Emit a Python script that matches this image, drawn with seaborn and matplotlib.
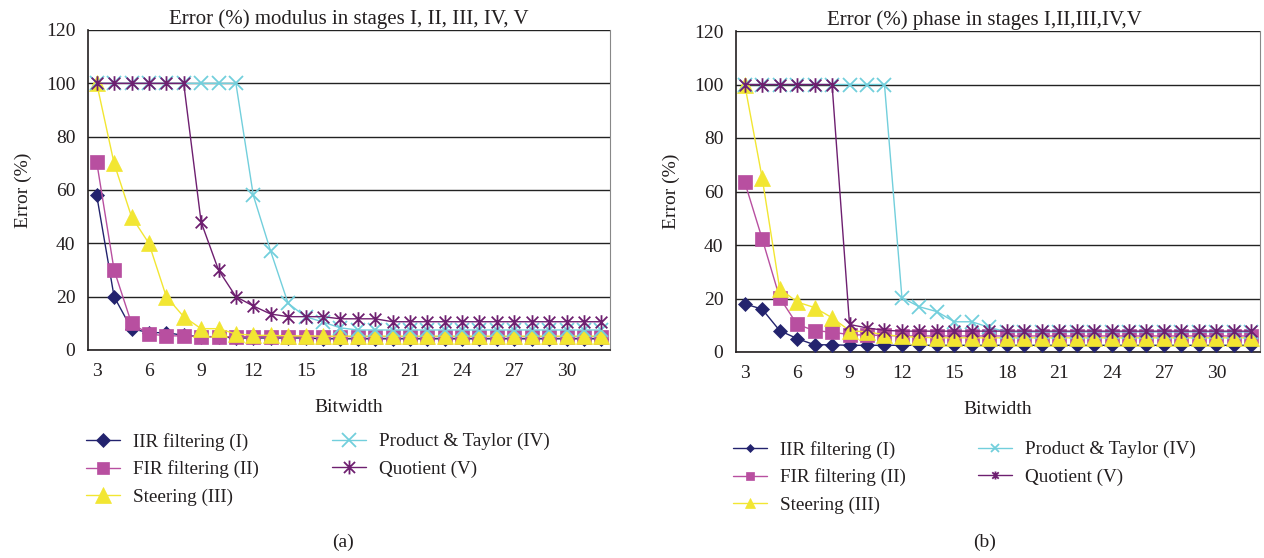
import numpy as np
import pandas as pd
import matplotlib
matplotlib.use("Agg")
import matplotlib.pyplot as plt
from matplotlib.path import Path
import seaborn as sns

# categories (bitwidth)
bitwidth = list(range(3, 33))

# (a) error (%) of modulus
iir_mod = [58, 20, 8, 6.5, 6.5, 5.5, 5, 5, 4.5, 4.5, 4.5, 4.5, 4.5, 4.2, 4.2,
           4.2, 4.2, 4.2, 4.2, 4.2, 4.2, 4.2, 4.2, 4.2, 4.2, 4.2, 4.2, 4.2, 4.2, 4.2]
fir_mod = [70.5, 30, 10, 6, 5.3, 5.3, 5, 5, 5, 5, 5, 5, 5, 5, 5,
           5, 5, 5, 5, 5, 5, 5, 5, 5, 5, 5, 5, 5, 5, 5]
steer_mod = [100, 70, 50, 40, 20, 12.5, 8, 8, 6, 5.5, 5.5, 5.3, 5.3, 5.2, 5.2,
             5.2, 5.2, 5.2, 5.2, 5.2, 5.2, 5.2, 5.2, 5.2, 5.2, 5.2, 5.2, 5.2, 5.2, 5.2]
prod_mod = [100, 100, 100, 100, 100, 100, 100, 100, 100, 58, 37, 17.5, 12.5, 10.5, 8.3,
            7.5, 7.5, 7.5, 7.5, 7.5, 7.5, 7.5, 7.5, 7.5, 7.5, 7.5, 7.5, 7.5, 7.5, 7.5]
quot_mod = [100, 100, 100, 100, 100, 100, 48, 30, 20, 16.5, 13.5, 12.5, 12.5, 12.5, 11.7,
            11.7, 11.7, 10.6, 10.6, 10.6, 10.6, 10.6, 10.6, 10.6, 10.6, 10.6, 10.6, 10.6, 10.6, 10.6]

# (b) error (%) of phase
iir_ph = [18, 16, 8, 5, 2.7, 2.7, 2.5, 2.5, 2.5, 2.5, 2.5, 2.5, 2.5, 2.5, 2.5,
          2.5, 2.5, 2.5, 2.5, 2.5, 2.5, 2.5, 2.5, 2.5, 2.5, 2.5, 2.5, 2.5, 2.5, 2.5]
fir_ph = [63.5, 42.3, 20.3, 10.3, 8, 7.4, 6.5, 6.3, 6.2, 6, 6, 6, 6, 6, 6,
          6, 6, 6, 6, 6, 6, 6, 6, 6, 6, 6, 6, 6, 6, 6]
steer_ph = [100, 65, 23.7, 18.7, 16.6, 12.8, 8, 7.5, 6.5, 5.8, 5.5, 5.3, 5.3, 5.3, 5.3,
            5.3, 5.3, 5.3, 5.3, 5.3, 5.3, 5.3, 5.3, 5.3, 5.3, 5.3, 5.3, 5.3, 5.3, 5.3]
prod_ph = [100, 100, 100, 100, 100, 100, 100, 100, 100, 20.3, 16.9, 15.1, 11.3, 11.3, 9.2,
           7.5, 7.5, 7.5, 7.5, 7.5, 7.5, 7.5, 7.5, 7.5, 7.5, 7.5, 7.5, 7.5, 7.5, 7.5]
quot_ph = [100, 100, 100, 100, 100, 100, 10.3, 9, 8.1, 7.8, 7.8, 7.8, 7.8, 7.8, 7.8,
           7.8, 7.8, 7.8, 7.8, 7.8, 7.8, 7.8, 7.8, 7.8, 7.8, 7.8, 7.8, 7.8, 7.8, 7.8]

series_names = ["IIR filtering (I)", "FIR filtering (II)", "Steering (III)",
                "Product & Taylor (IV)", "Quotient (V)"]
panel_titles = ["Error (%) modulus in stages I, II, III, IV, V",
                "Error (%) phase in stages I,II,III,IV,V"]
panel_tags = ["(a)", "(b)"]

# styles
colors = ["#23236e", "#b84fa0", "#f2e632", "#72cfdc", "#6e1f70"]
asterisk = Path([(0, -1), (0, 1), (-0.8, -0.8), (0.8, 0.8), (-0.8, 0.8), (0.8, -0.8)],
                [Path.MOVETO, Path.LINETO, Path.MOVETO, Path.LINETO, Path.MOVETO, Path.LINETO])
markers = ["D", "s", "^", "x", asterisk]
msizes = [7, 9.5, 12, 10.5, 10.5]

sns.set_style("white")
plt.rcParams["font.family"] = ["Liberation Serif", "DejaVu Serif"]
plt.rcParams["text.color"] = "#231f20"
plt.rcParams["axes.labelcolor"] = "#231f20"
plt.rcParams["xtick.color"] = "#231f20"
plt.rcParams["ytick.color"] = "#231f20"

fig = plt.figure(figsize=(12.64, 5.58), dpi=100)
W, H = 1264, 558

# axes boxes in pixels (left, top, right, bottom)
boxes = [(88, 30, 610, 350), (736, 31, 1260, 352)]
legend_pos = [((86, 433), (332, 433)), ((733, 441), (978, 441))]
tag_pos = [(343, 542), (985, 542)]
title_x = [0.5, 0.475]

panels = [[iir_mod, fir_mod, steer_mod, prod_mod, quot_mod],
          [iir_ph, fir_ph, steer_ph, prod_ph, quot_ph]]

for p, data in enumerate(panels):
    l, t, r, b = boxes[p]
    ax = fig.add_axes([l / W, 1 - b / H, (r - l) / W, (b - t) / H])
    df = pd.DataFrame({"Bitwidth": bitwidth * 5,
                       "Error": sum(data, []),
                       "series": np.repeat(series_names, len(bitwidth))})
    for i, name in enumerate(series_names):
        sub = df[df["series"] == name]
        mew = 1.3 if i >= 3 else 0.5
        sns.lineplot(data=sub, x="Bitwidth", y="Error", ax=ax, color=colors[i],
                     marker=markers[i], markersize=msizes[i], markeredgecolor=colors[i],
                     markerfacecolor=colors[i], markeredgewidth=mew, linewidth=1.0,
                     label=name, legend=False, zorder=3 + i)

    ax.set_xlim(2.5, 32.5)
    ax.set_ylim(0, 120)
    ax.set_yticks(range(0, 121, 20))
    ax.set_xticks(range(3, 31, 3))
    ax.set_xticks(np.arange(2.5, 33, 1), minor=True)
    ax.tick_params(axis="x", which="major", length=0, pad=9, labelsize=14)
    ax.tick_params(axis="x", which="minor", length=6, width=1, direction="out", color="#231f20")
    ax.tick_params(axis="y", which="major", length=6, width=1, direction="out", labelsize=14, pad=3)
    ax.yaxis.grid(True, color="#222222", linewidth=1.0)
    ax.set_axisbelow(True)
    for s in ["left", "bottom"]:
        ax.spines[s].set_color("#231f20")
        ax.spines[s].set_linewidth(1.2)
    ax.spines["right"].set_color("#888888")
    ax.spines["top"].set_visible(False)
    ax.set_title(panel_titles[p], fontsize=15, pad=4, x=title_x[p])
    ax.set_xlabel("Bitwidth", fontsize=14, labelpad=14)
    ax.set_ylabel("Error (%)", fontsize=14, labelpad=10)

    handles, labels = ax.get_legend_handles_labels()
    for k, (idx, pos) in enumerate(zip([[0, 1, 2], [3, 4]], legend_pos[p])):
        fig.legend([handles[j] for j in idx], [labels[j] for j in idx],
                   loc="upper left", bbox_to_anchor=(pos[0] / W, 1 - pos[1] / H),
                   frameon=False, fontsize=13.8, handlelength=1.75, handletextpad=0.7,
                   labelspacing=0.5, borderpad=0, borderaxespad=0, numpoints=1,
                   markerscale=0.95 if p == 0 else 0.55)
    fig.text(tag_pos[p][0] / W, 1 - tag_pos[p][1] / H, panel_tags[p],
             ha="center", va="center", fontsize=14)

fig.savefig("out.png", dpi=100)
